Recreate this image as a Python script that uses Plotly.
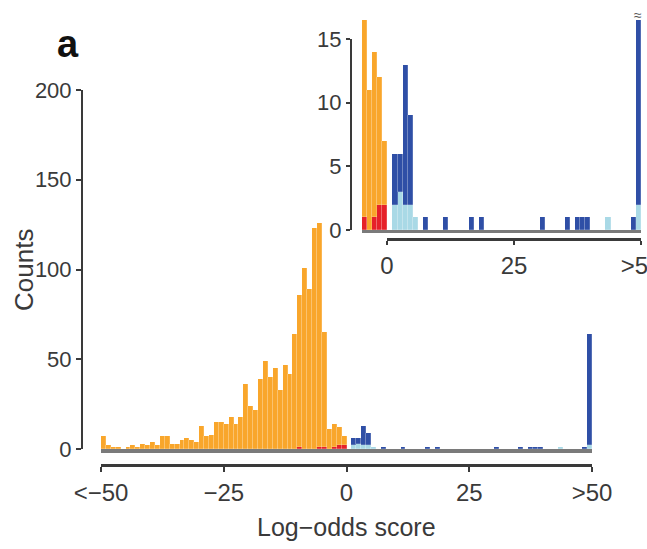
import plotly.graph_objects as go

# ---------------- data ----------------
# orange (negative class, excluding red part), bins -50 .. -1 (left edges)
orange_bins = list(range(-50, 0))
orange_counts = [7, 2, 1, 1, 0, 1, 2, 1, 3, 2,
                 4, 2, 7, 7, 3, 3, 5, 6, 5, 4,
                 13, 7, 8, 15, 15, 14, 18, 14, 18, 36,
                 24, 22, 39, 49, 40, 45, 33, 47, 42, 64,
                 85, 101, 89, 123, 125, 64, 11, 13, 10, 5]
red_bins = [-10, -6, -5, -3, -2, -1]
red_counts = [1, 1, 1, 1, 2, 2]
lightblue_bins = [1, 2, 3, 4, 5, 43, 49]
lightblue_counts = [2, 3, 2, 2, 1, 1, 2]
darkblue_bins = [1, 2, 3, 4, 7, 11, 16, 18, 30, 35, 37, 38, 39, 48, 49]
darkblue_counts = [4, 3, 11, 7, 1, 1, 1, 1, 1, 1, 1, 1, 1, 1, 62]

main_xticks = [-50, -25, 0, 25, 50]
main_xticktext = ["<\u221250", "\u221225", "0", "25", ">50"]
main_yticks = [0, 50, 100, 150, 200]
inset_xticks = [0, 25, 50]
inset_xticktext = ["0", "25", ">50"]
inset_yticks = [0, 5, 10, 15]

ORANGE = "#F9A62B"
RED = "#E62129"
LIGHTBLUE = "#A9D9E6"
DARKBLUE = "#2F4FA6"
AX = "#3a3a3a"
FONT = "Liberation Sans, Arial, sans-serif"

W, H = 647, 549


def px(x):
    return x / W


def py(y):
    return 1 - y / H


def centers(b):
    return [v + 0.5 for v in b]


fig = go.Figure()

series = [
    (red_bins, red_counts, RED),
    (orange_bins, orange_counts, ORANGE),
    (lightblue_bins, lightblue_counts, LIGHTBLUE),
    (darkblue_bins, darkblue_counts, DARKBLUE),
]
for xa, ya in [("x", "y"), ("x3", "y3")]:
    for b, c, col in series:
        fig.add_trace(go.Bar(
            x=centers(b), y=c, width=1,
            marker=dict(color=col, line=dict(width=0.5, color="rgba(255,255,255,0.35)")),
            xaxis=xa, yaxis=ya, showlegend=False, hoverinfo="skip"))

# dummy traces to carry the detached (R-style) axes
fig.add_trace(go.Scatter(x=[], y=[], xaxis="x2", yaxis="y", showlegend=False))
fig.add_trace(go.Scatter(x=[], y=[], xaxis="x4", yaxis="y4", showlegend=False))

xtickfont = dict(family=FONT, size=24, color=AX)
ytickfont = dict(family=FONT, size=22, color=AX)

fig.update_layout(
    template="none",
    width=W, height=H,
    margin=dict(l=0, r=0, t=0, b=0, pad=0),
    paper_bgcolor="white", plot_bgcolor="rgba(0,0,0,0)",
    barmode="stack", bargap=0,
    font=dict(family=FONT, color=AX),
    # main panel: bars
    xaxis=dict(domain=[px(101), px(592)], range=[-50, 50], anchor="y", automargin=False,
               showline=True, linecolor="#7a7a7a", linewidth=4,
               showticklabels=False, ticks="", showgrid=False, zeroline=False),
    yaxis=dict(domain=[py(449), py(90)], range=[0, 200], anchor="free", position=px(82),
               automargin=False,
               showline=True, linecolor=AX, linewidth=2, ticks="outside", ticklen=5,
               tickwidth=2, tickcolor=AX, tickvals=main_yticks, tickfont=ytickfont,
               showgrid=False, zeroline=False),
    # main panel: labelled x axis
    xaxis2=dict(overlaying="x", anchor="free", position=py(465), range=[-50, 50],
                automargin=False, ticklabeloverflow="allow",
                showline=True, linecolor=AX, linewidth=3, ticks="outside", ticklen=5,
                tickwidth=2, tickcolor=AX, tickvals=main_xticks, ticktext=main_xticktext,
                tickfont=xtickfont, ticklabelstandoff=0, showgrid=False, zeroline=False),
    # inset: bars
    xaxis3=dict(domain=[px(362), px(641)], range=[-5, 50], anchor="y3", automargin=False,
                showline=True, linecolor="#7a7a7a", linewidth=3,
                showticklabels=False, ticks="", showgrid=False, zeroline=False),
    yaxis3=dict(domain=[py(230), py(20)], range=[0, 16.5], anchor="x3", visible=False,
                automargin=False),
    # inset: labelled axes
    xaxis4=dict(domain=[px(387), px(641)], range=[0, 50], anchor="free", position=py(239),
                automargin=False, ticklabeloverflow="allow",
                showline=True, linecolor=AX, linewidth=3, ticks="outside", ticklen=4,
                tickwidth=2, tickcolor=AX, tickvals=inset_xticks, ticktext=inset_xticktext,
                tickfont=xtickfont, showgrid=False, zeroline=False),
    yaxis4=dict(domain=[py(230), py(39)], range=[0, 15], anchor="free", position=px(351),
                automargin=False,
                showline=True, linecolor=AX, linewidth=2, ticks="outside", ticklen=4,
                tickwidth=2, tickcolor=AX, tickvals=inset_yticks, tickfont=ytickfont,
                showgrid=False, zeroline=False),
    annotations=[
        dict(text="<b>a</b>", x=px(55), y=py(44), xref="paper", yref="paper",
             xanchor="left", yanchor="middle", showarrow=False,
             font=dict(family=FONT, size=38, color="#111")),
        dict(text="\u2248", x=49.5, y=py(15), xref="x3", yref="paper",
             xanchor="center", yanchor="middle", showarrow=False,
             font=dict(family=FONT, size=14, color="#555")),
        dict(text="Counts", x=px(24), y=py(270), xref="paper", yref="paper",
             xanchor="center", yanchor="middle", textangle=-90, showarrow=False,
             font=dict(family=FONT, size=26, color=AX)),
        dict(text="Log\u2212odds score", x=px(347), y=py(527), xref="paper", yref="paper",
             xanchor="center", yanchor="middle", showarrow=False,
             font=dict(family=FONT, size=25, color=AX)),
    ],
)

fig.write_html("out.html")
